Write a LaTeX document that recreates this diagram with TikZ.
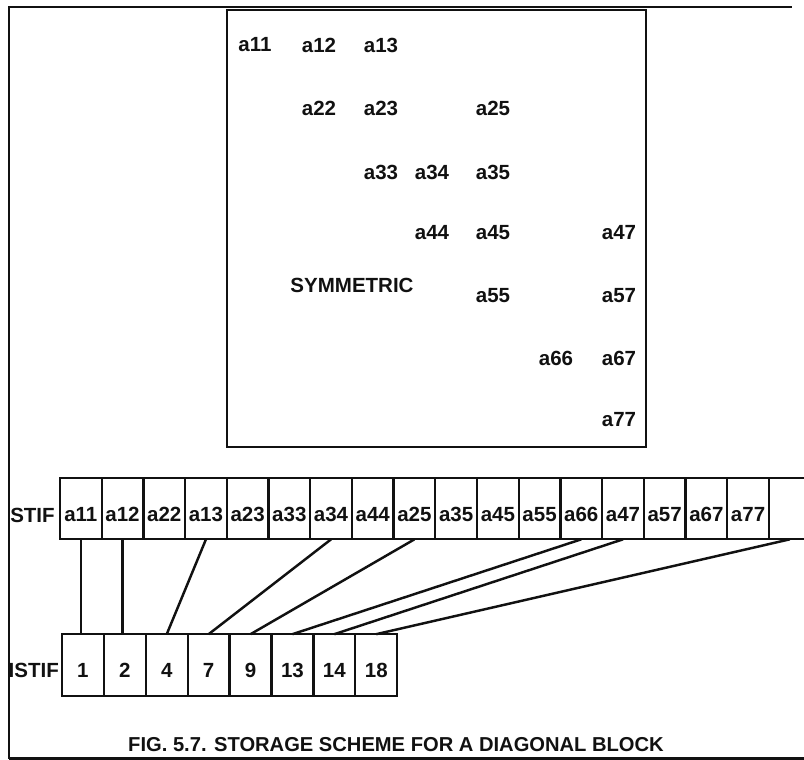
\documentclass[tikz,border=0pt]{standalone}
\usepackage{fontspec}
\setmainfont{Liberation Sans}
\usepackage{tikz}
\usetikzlibrary{positioning}
\definecolor{scanink}{HTML}{111111}

\begin{document}
\begin{tikzpicture}[x=0.03cm,y=-0.03cm,
    entry/.style={font=\fontsize{17.5}{19}\selectfont\bfseries,text=scanink,inner sep=0pt},
    cellbox/.style={entry,draw=scanink,line width=1.9pt,minimum width=1.255cm,minimum height=1.85cm,outer sep=0pt,text height=22pt,text depth=0pt},
    frameline/.style={draw=scanink,line width=1.9pt},
    link/.style={draw=scanink,line width=2.1pt}]
  \useasboundingbox (0,0) rectangle (804,760);
  % outer frame
  \draw[frameline] (9,758.5) |- (792,7);
  \draw[frameline] (9,758.5) -- (804,758.5);
  % matrix
  \draw[frameline] (227,10) rectangle (646,447);
  \foreach \n/\x/\y in {11/255/45,12/319/45,13/381/45,22/319/108,23/381/108,25/493/108,
      33/381/172,34/432/172,35/493/172,44/432/233,45/493/233,47/619/233,
      55/493/296,57/619/296,66/556/358,67/619/358,77/619/420}
    \node[entry] (m\n) at (\x,\y) {a\n};
  \node[entry] (sym) at (352,285) {SYMMETRIC};
  % STIF and ISTIF arrays
  \foreach \lab [count=\k] in {a11,a12,a22,a13,a23,a33,a34,a44,a25,a35,a45,a55,a66,a47,a57,a67,a77,{}}
    \node[cellbox] (s\k) at ({60+41.7*(\k-0.5)},508.5) {\lab};
  \foreach \lab [count=\k] in {1,2,4,7,9,13,14,18}
    \node[cellbox] (i\k) at ({62+41.9*(\k-0.5)},665) {\lab};
  \node[entry,anchor=east] (stif) at ([xshift=-5*0.03cm,yshift=-6.5*0.03cm]s1.west) {STIF};
  \node[entry,anchor=east] (istif) at ([xshift=-3*0.03cm,yshift=-5*0.03cm]i1.west) {ISTIF};
  \draw[link] (s1.south) -- (s1.south |- i1.north);
  \draw[link] (s2.south) -- (s2.south |- i2.north);
  \foreach \a/\b in {4/3,7/4,9/5,13/6,14/7,18/8}
    \draw[link] (s\a.south) -- (i\b.north);
  \node[entry,font=\fontsize{17.2}{19}\selectfont\bfseries] (cap) at (396,745) {FIG. 5.7. STORAGE SCHEME FOR A DIAGONAL BLOCK};
\end{tikzpicture}
\end{document}
